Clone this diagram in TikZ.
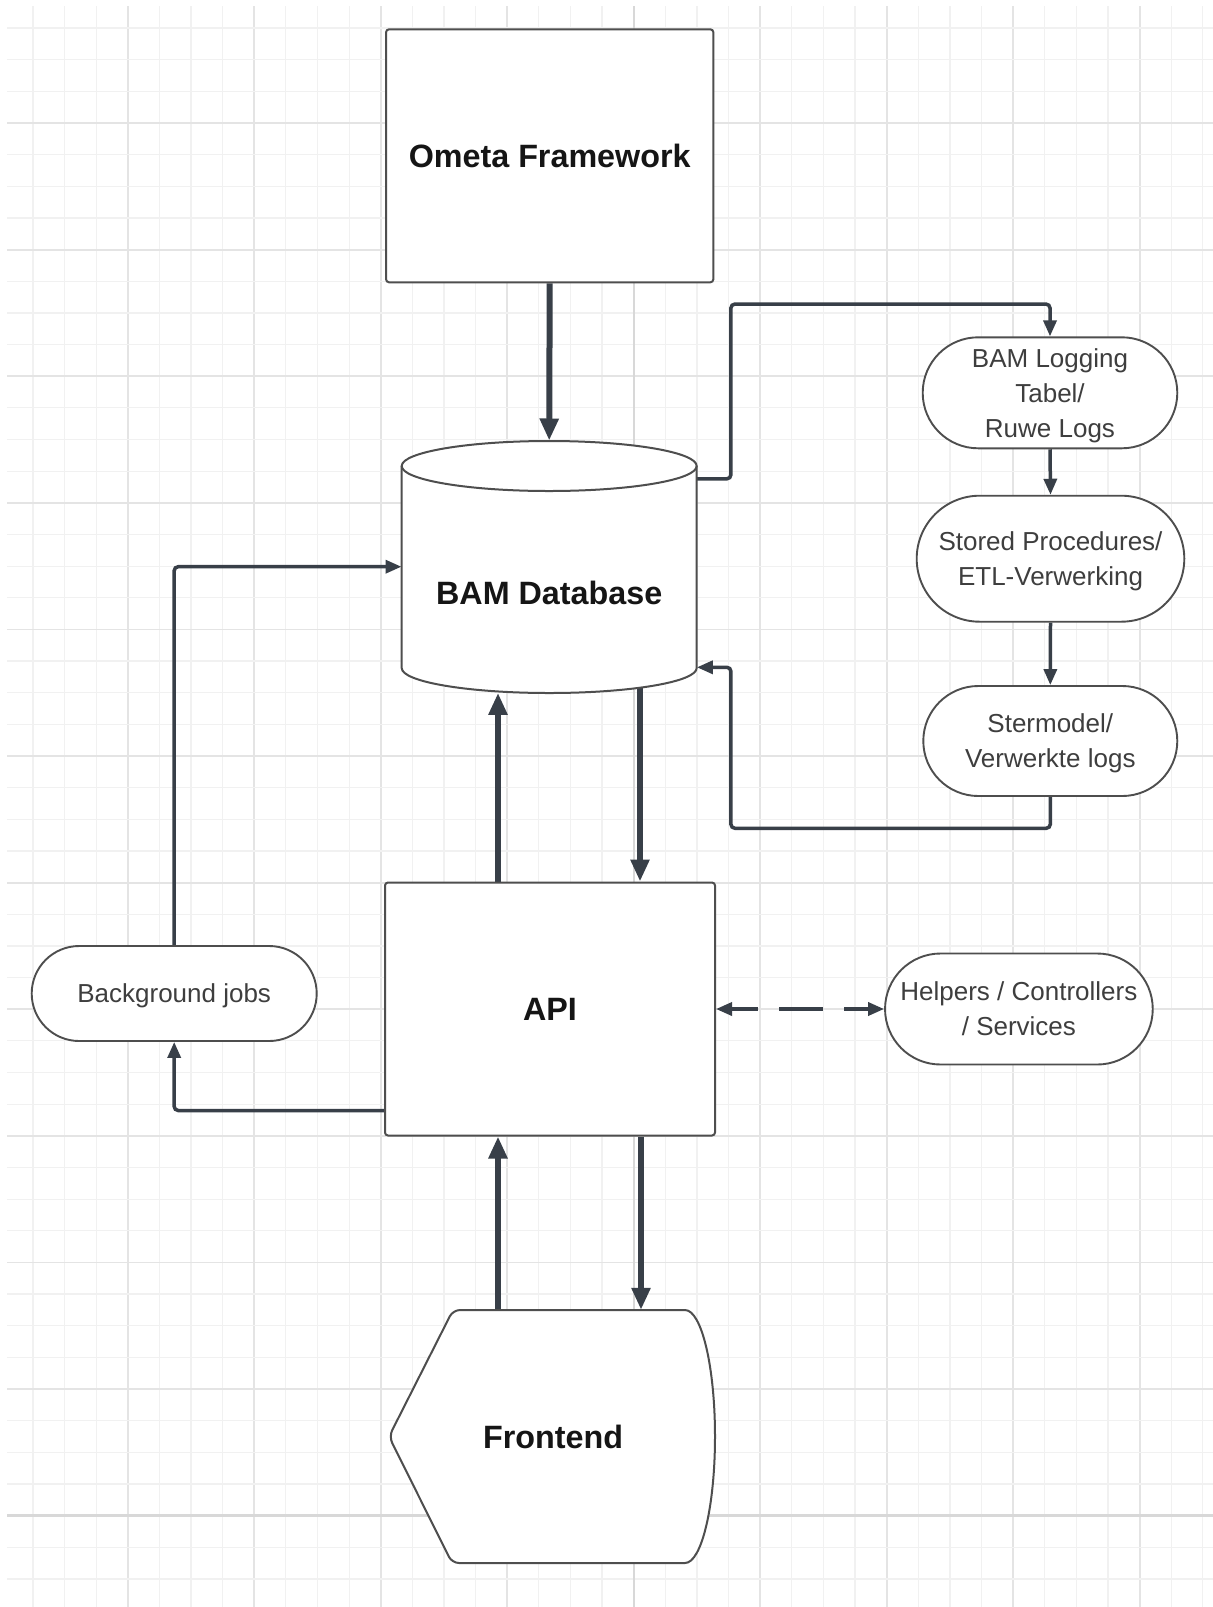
\documentclass[tikz,border=0pt]{standalone}
\usepackage{fontspec}
\setmainfont{Liberation Sans}
\usetikzlibrary{arrows.meta,calc}

\definecolor{edge}{HTML}{383F48}
\definecolor{border}{HTML}{4E4E4E}
\definecolor{gridminor}{HTML}{F1F1F1}
\definecolor{gridmajor}{HTML}{E4E4E4}
\definecolor{gridpage}{HTML}{D8D8D8}
\definecolor{labeltext}{HTML}{151515}
\definecolor{softtext}{HTML}{3E3E3E}

\pgfdeclarelayer{gridlayer}
\pgfdeclarelayer{wires}
\pgfsetlayers{gridlayer,wires,main}

\tikzset{
  box/.style={draw=border, line width=2pt, fill=white, rounded corners=3pt, inner sep=0pt},
  pill/.style={draw=border, line width=1.9pt, fill=white, inner sep=0pt, text depth=0pt,
    text=softtext, align=center, font=\fontsize{26}{35}\selectfont},
  title/.style={font=\bfseries\fontsize{32.3}{38}\selectfont, text=labeltext, inner sep=0pt},
  shapeline/.style={draw=border, line width=2pt, fill=white},
  heavy/.style={draw=edge, line width=6pt, -{Triangle[length=22pt,width=18pt]}},
  light/.style={draw=edge, line width=3.5pt, -{Triangle[length=16pt,width=13pt]}, rounded corners=4pt},
  dashlink/.style={draw=edge, line width=3.5pt,
    {Triangle[length=16pt,width=13pt]}-{Triangle[length=16pt,width=13pt]},
    dash pattern=on 44pt off 21pt, dash phase=17pt},
}

\begin{document}
\begin{tikzpicture}[x=1pt,y=-1pt]
\useasboundingbox (0,0) rectangle (1213,1607);

% ---------- grid paper ----------
\begin{pgfonlayer}{gridlayer}
\fill[white] (0,0) rectangle (1213,1607);
\begin{scope}
\clip (7,6) rectangle (1213,1607);
\foreach \k in {0,...,38} {
  \pgfmathsetmacro\gx{1.3+31.62*\k}
  \pgfmathtruncatemacro\m{mod(\k,4)}
  \ifnum\m=0
    \draw[gridmajor, line width=1.8pt] (\gx,0) -- (\gx,1607);
  \else
    \draw[gridminor, line width=1.2pt] (\gx,0) -- (\gx,1607);
  \fi
}
\foreach \k in {0,...,51} {
  \pgfmathsetmacro\gy{-3.6+31.65*\k}
  \pgfmathtruncatemacro\m{mod(\k,4)}
  \ifnum\m=0
    \draw[gridmajor, line width=1.8pt] (0,\gy) -- (1213,\gy);
  \else
    \draw[gridminor, line width=1.2pt] (0,\gy) -- (1213,\gy);
  \fi
}
\draw[gridpage, line width=2.4pt] (633.7,0) -- (633.7,1607);
\draw[gridpage, line width=2.4pt] (0,1515.6) -- (1213,1515.6);
\end{scope}
\end{pgfonlayer}

% ---------- blocks ----------
\node[box, title, minimum width=327.3pt, minimum height=253pt] (ometa) at (549.7,155.8) {Ometa Framework};

% database cylinder
\node[minimum width=295pt, minimum height=252pt, inner sep=0pt] (db) at (549.2,566.7) {};
\path[shapeline] (401.7,466) -- (401.7,668)
  arc[start angle=180, end angle=0, x radius=147.5, y radius=25]
  -- (696.7,466)
  arc[start angle=0, end angle=-180, x radius=147.5, y radius=25] -- cycle;
\draw[draw=border, line width=2pt] (401.7,466)
  arc[start angle=180, end angle=0, x radius=147.5, y radius=25];
\node[title] (dblabel) at ([yshift=-26.3pt]db.center) {BAM Database};

% logging chain
\node[pill, minimum width=254.6pt, minimum height=111pt, rounded corners=55.5pt] (log) at (1050,392.8)
  {BAM Logging\\Tabel/\\Ruwe Logs};
\node[pill, minimum width=267.6pt, minimum height=126pt, rounded corners=63pt] (sp) at (1050.5,558.7)
  {Stored Procedures/\\ETL-Verwerking};
\node[pill, minimum width=254pt, minimum height=110pt, rounded corners=55pt] (ster) at (1050.3,741)
  {Stermodel/\\Verwerkte logs};

% API layer
\node[box, title, minimum width=330pt, minimum height=253pt] (api) at (550,1009) {API};
\node[pill, minimum width=285pt, minimum height=95pt, rounded corners=47.5pt] (bg) at (174.2,993.5)
  {Background jobs};
\node[pill, minimum width=267.7pt, minimum height=111pt, rounded corners=55.5pt] (help) at (1018.9,1009)
  {Helpers / Controllers\\/ Services};

% frontend (display shape)
\node[minimum width=326pt, minimum height=253pt, inner sep=0pt] (fe) at (552,1436.5) {};
\path[shapeline] (600,1310) [rounded corners=7pt] -- (453,1310) -- (389,1436.5) -- (452,1563) -- (600,1563)
  [sharp corners] -- (685,1563)
  arc[start angle=90, end angle=-90, x radius=30, y radius=126.5] -- cycle;
\node[title] (felabel) at (553,1437) {Frontend};

% ---------- connectors ----------
\path (api.north) ++(-52,0) coordinate (apiTopL) ++(142,0) coordinate (apiTopR);
\path (api.south) ++(-52,0) coordinate (apiBotL) ++(143,0) coordinate (apiBotR);

\begin{pgfonlayer}{wires}
\draw[heavy] (ometa.south) -- (db.north);

\draw[light] ([yshift=-38.3pt]db.north east) -- ++(34,0) |- ($(log.north)+(0,-32.3)$) -- (log.north);
\draw[light] (log.south) -- (sp.north);
\draw[light] (sp.south) -- (ster.north);
\draw[light] (ster.south) -- ++(0,31.3) -| ($([yshift=-100.6pt]db.east)+(34,0)$) -- ([yshift=-100.6pt]db.east);

\draw[heavy] (apiTopL) -- (apiTopL |- db.south);
\draw[heavy] (apiTopR |- db.center) -- (apiTopR);

\draw[heavy] (apiBotL |- fe.north) -- (apiBotL);
\draw[heavy] (apiBotR) -- (apiBotR |- fe.north);

\draw[light] ([yshift=-101.5pt]api.west) -| (bg.south);
\draw[light] (bg.north) |- (db.west);

\draw[dashlink] (api.east) -- (help.west);
\end{pgfonlayer}
\end{tikzpicture}
\end{document}
